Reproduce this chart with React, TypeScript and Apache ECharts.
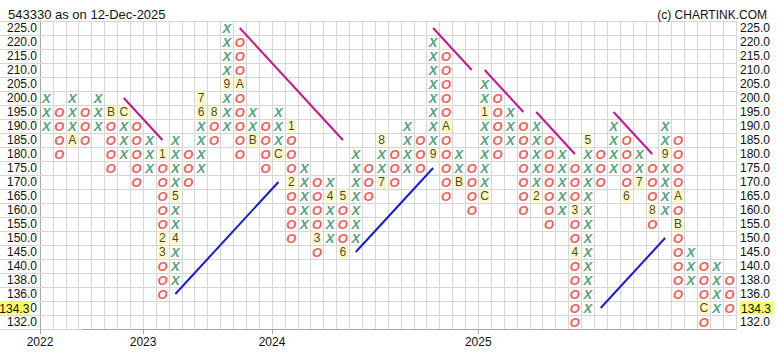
import React, { useEffect, useRef } from "react";
import * as echarts from "echarts";

// Box rows (price levels), bottom to top
const rowValues = [132, 134, 136, 138, 140, 145, 150, 155, 160, 165, 170, 175, 180, 185, 190, 195, 200, 205, 210, 215, 220, 225];

// Point & Figure columns
const colTypes = ["X","O","X","O","X","O","X","O","X","O","X","O","X","O","X","O","X","O","X","O","X","O","X","O","X","O","X","O","X","O","X","O","X","O","X","O","X","O","X","O","X","O","X","O","X","O","X","O","X","O","X","O","X","O"];
const colLows = [190,180,185,185,190,175,180,170,175,136, 138,170,175,185,190,180,185,175,180,150, 155,145,150,145,150,165,170,170,175,175, 180,165,170,160,165,180,185,160,165,155, 160,132,134,170,175,165,170,155,160,136, 138,132,134,134];
const colHighs = [200,195,200,195,200,195,195,190,185,180, 185,180,200,195,225,220,195,190,195,190, 175,170,170,165,180,175,185,180,190,185, 220,215,180,175,205,200,195,190,190,185, 180,175,185,180,190,185,180,175,190,185, 145,140,140,138];

// Month markers: [column, price, label]
const monthMarks: [number, number, string][] = [
  [2,185,"A"],[5,195,"B"],[6,195,"C"],[9,180,"1"],[9,150,"2"],[9,145,"3"],[10,150,"4"],[10,165,"5"],
  [12,195,"6"],[12,200,"7"],[13,195,"8"],[14,205,"9"],[15,205,"A"],[16,185,"B"],[18,180,"C"],
  [19,190,"1"],[19,170,"2"],[21,150,"3"],[22,165,"4"],[23,165,"5"],[23,145,"6"],[26,170,"7"],[26,185,"8"],
  [30,180,"9"],[31,190,"A"],[32,170,"B"],[34,165,"C"],[34,195,"1"],[38,165,"2"],[41,160,"3"],[41,145,"4"],
  [42,185,"5"],[45,165,"6"],[46,170,"7"],[47,160,"8"],[48,180,"9"],[49,165,"A"],[49,155,"B"],[51,134,"C"]
];

// Trend lines: [col1, price1, col2, price2]
const downLines: [number, number, number, number][] = [
  [6,200,9,185],[15,225,23,185],[30,225,33,210],[34,210,37,195],[38,195,41,180],[44,195,47,180]
];
const upLines: [number, number, number, number][] = [
  [10,136,18,170],[24,145,30,175],[43,134,48,150]
];

const yearTicks = [0, 8, 18, 34];
const yearLabels = ["2022", "2023", "2024", "2025"];
const lastPrice = "134.3";
const lastPriceRow = 134;

const FONT = "'Liberation Sans', Arial, sans-serif";

export default function App() {
  const ref = useRef<HTMLDivElement>(null);
  useEffect(() => {
    if (!ref.current) return;
    const chart = echarts.init(ref.current, null, { renderer: "svg" });
    const rowIdx = (v: number) => rowValues.indexOf(v);
    const xData: number[][] = [];
    const oData: number[][] = [];
    colTypes.forEach((t, c) => {
      for (let r = rowIdx(colLows[c]); r <= rowIdx(colHighs[c]); r++) {
        const mk = monthMarks.find((m) => m[0] === c && rowIdx(m[1]) === r);
        if (mk) continue;
        (t === "X" ? xData : oData).push([c + 0.5, r + 0.5]);
      }
    });
    const mData = monthMarks.map((m) => ({ value: [m[0] + 0.5, rowIdx(m[1]) + 0.5], name: m[2] }));
    const rowCenters = rowValues.map((_, i) => i + 0.5);
    const lastIdx = rowIdx(lastPriceRow);
    const rowLabel = (v: number) => rowValues[Math.round(v - 0.5)];

    const lineSeries = (segs: [number, number, number, number][], color: string) =>
      segs.map((s) => ({
        type: "line",
        xAxisIndex: 0,
        yAxisIndex: 0,
        data: [[s[0] + 0.5, rowIdx(s[1]) + 0.5], [s[2] + 0.5, rowIdx(s[3]) + 0.5]],
        symbol: "none",
        lineStyle: { color, width: 2 },
        z: 3,
        silent: true,
      }));

    const markSeries = (data: any, color: string, txt: string) => ({
      type: "scatter",
      xAxisIndex: 0,
      yAxisIndex: 0,
      data,
      symbolSize: 1,
      itemStyle: { color: "transparent" },
      label: {
        show: true,
        position: "inside",
        formatter: txt,
        color,
        fontSize: 13,
        lineHeight: 12,
        fontStyle: "italic",
        fontWeight: "bold",
        fontFamily: FONT,
      },
      z: 4,
    });

    chart.setOption({
      animation: false,
      backgroundColor: "#fff",
      title: [
        { text: "543330 as on 12-Dec-2025", left: 3, top: 3, textStyle: { fontSize: 13, fontWeight: "normal", color: "#111", fontFamily: FONT } },
        { text: "(c) CHARTINK.COM", right: 6, top: 4, textStyle: { fontSize: 12, fontWeight: "normal", color: "#111", fontFamily: FONT } },
      ],
      grid: { left: 40, right: 42, top: 21, bottom: 29, containLabel: false, outerBoundsMode: "none" },
      xAxis: [
        {
          type: "value", min: 0, max: 54, interval: 1,
          axisLine: { show: false }, axisTick: { show: false }, axisLabel: { show: false },
          splitLine: { show: true, lineStyle: { color: "#d6d6d6", width: 1 } },
        },
        {
          type: "value", min: 0, max: 54, position: "bottom",
          axisLine: { show: true, lineStyle: { color: "#aaa" } },
          axisTick: { show: true, customValues: yearTicks, length: 5, lineStyle: { color: "#aaa" } },
          axisLabel: {
            customValues: yearTicks, fontSize: 12, color: "#111", margin: 7, fontFamily: FONT,
            formatter: (v: number) => yearLabels[yearTicks.indexOf(Math.round(v))] || "",
          },
          splitLine: { show: false },
        },
      ],
      yAxis: [
        {
          type: "value", min: 0, max: 22, interval: 1, position: "left",
          axisLine: { show: true, lineStyle: { color: "#aaa" } },
          axisTick: { show: true, length: 41, lineStyle: { color: "#d6d6d6" } },
          axisLabel: {
            customValues: rowCenters, fontSize: 12, color: "#111", margin: 3, fontFamily: FONT,
            formatter: (v: number) => {
              const val = rowLabel(v);
              if (Math.round(v - 0.5) === lastIdx) return "{hl|" + lastPrice + "}0";
              return val.toFixed(1);
            },
            rich: { hl: { backgroundColor: "#ffff66", fontSize: 12, color: "#111", padding: [1, 1, 0, 2], fontFamily: FONT } },
          },
          splitLine: { show: true, lineStyle: { color: "#d6d6d6", width: 1 } },
        },
        {
          type: "value", min: 0, max: 22, interval: 1, position: "right",
          axisLine: { show: true, lineStyle: { color: "#aaa" } },
          axisTick: { show: true, length: 42, lineStyle: { color: "#d6d6d6" } },
          axisLabel: {
            customValues: rowCenters, fontSize: 12, color: "#111", margin: 4, fontFamily: FONT,
            formatter: (v: number) => {
              if (Math.round(v - 0.5) === lastIdx) return "{hl|" + lastPrice + "}";
              return rowLabel(v).toFixed(1);
            },
            rich: { hl: { backgroundColor: "#ffff66", fontSize: 12, color: "#111", padding: [1, 3, 0, 1], fontFamily: FONT } },
          },
          splitLine: { show: false },
        },
      ],
      series: [
        ...lineSeries(downLines, "#c8158c"),
        ...lineSeries(upLines, "#1a1ad6"),
        markSeries(xData, "#23875a", "X"),
        markSeries(oData, "#ff2d2d", "O"),
        {
          type: "scatter",
          xAxisIndex: 0,
          yAxisIndex: 0,
          data: mData,
          symbolSize: 1,
          itemStyle: { color: "transparent" },
          label: {
            show: true,
            position: "inside",
            formatter: (p: any) => p.name,
            color: "#111",
            fontSize: 12,
            lineHeight: 12,
            fontFamily: FONT,
            backgroundColor: "#fff7b0",
            padding: [1, 1, 0, 1],
          },
          z: 4,
        },
      ],
    });
    return () => chart.dispose();
  }, []);
  return <div ref={ref} style={{ position: "absolute", left: 0, top: 0, width: 778, height: 358, background: "#fff" }} />;
}
